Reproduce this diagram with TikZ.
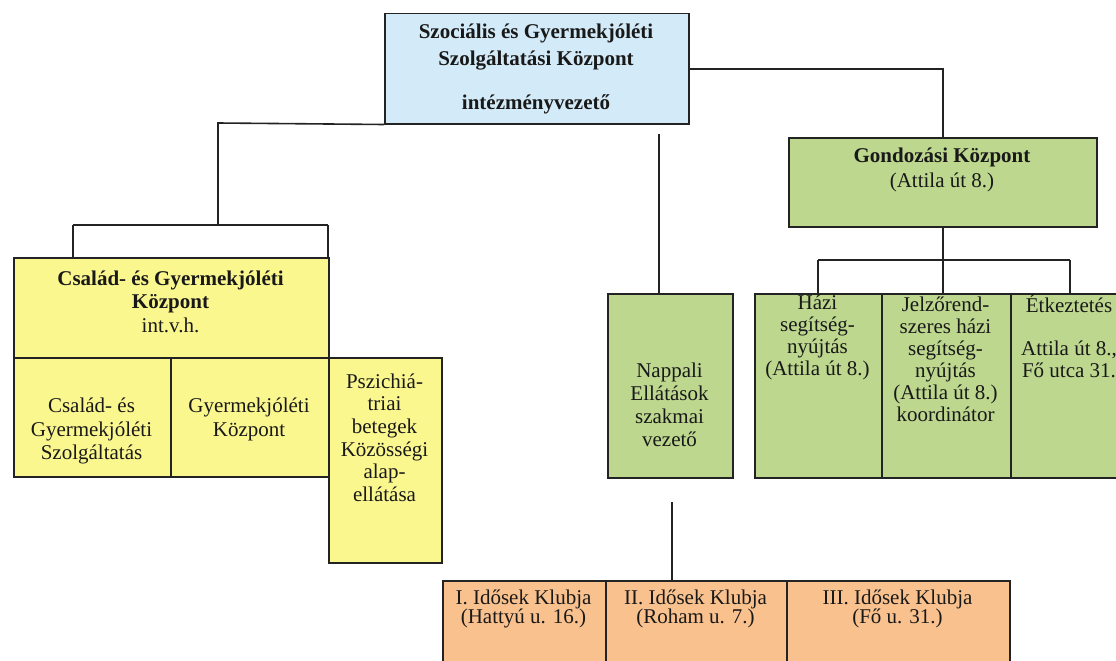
\documentclass[tikz,border=0pt]{standalone}
\usepackage{fontspec}
\setmainfont{Liberation Serif}
\definecolor{cblue}{HTML}{D3EBF8}
\definecolor{cyel}{HTML}{FBF78F}
\definecolor{cgreen}{HTML}{BDD78E}
\definecolor{corange}{HTML}{F9C18E}
\definecolor{cline}{HTML}{232323}
\tikzset{
  box/.style={draw=cline, line width=1.5pt, inner sep=0pt, anchor=north west},
  conn/.style={draw=cline, line width=1.6pt},
  txt/.style={align=center, inner sep=0pt, text=black!90, font=\fontsize{21}{22}\selectfont},
  btxt/.style={txt, font=\fontsize{21}{22}\selectfont\bfseries},
}
\begin{document}
\begin{tikzpicture}[x=1pt,y=-1pt]
\useasboundingbox (0,0) rectangle (1116,661);
\clip (0,0) rectangle (1116,661);
\fill[white] (0,0) rectangle (1116,661);

% boxes
\node[box, fill=cblue, minimum width=304pt, minimum height=110pt] (top) at (384,13) {};
\node[box, fill=cgreen, minimum width=308pt, minimum height=89pt] (gond) at (788,137) {};
\node[box, fill=cyel, minimum width=315pt, minimum height=100pt] (yt) at (13,257) {};
\node[box, fill=cyel, minimum width=157pt, minimum height=119pt] (yl1) at (13,357) {};
\node[box, fill=cyel, minimum width=158pt, minimum height=119pt] (yl2) at (170,357) {};
\node[box, fill=cyel, minimum width=113pt, minimum height=205pt] (psz) at (328,357) {};
\node[box, fill=cgreen, minimum width=125pt, minimum height=184pt] (nap) at (607,293) {};
\node[box, fill=cgreen, minimum width=127pt, minimum height=184pt] (hazi) at (754,293) {};
\node[box, fill=cgreen, minimum width=129pt, minimum height=184pt] (jelz) at (881,293) {};
\node[box, fill=cgreen, minimum width=130pt, minimum height=184pt] (etk) at (1010,293) {};
\node[box, fill=corange, minimum width=163pt, minimum height=100pt] (o1) at (442,580) {};
\node[box, fill=corange, minimum width=181pt, minimum height=100pt] (o2) at (605,580) {};
\node[box, fill=corange, minimum width=223pt, minimum height=100pt] (o3) at (786,580) {};

% texts
\node[btxt] (ttop) at (536,68.5) {Szociális és Gyermekjóléti\\[5pt]Szolgáltatási Központ\\[22pt]intézményvezető};
\node[txt] (tgond) at (942,169.5) {\textbf{Gondozási Központ}\\[3pt](Attila út 8.)};
\node[txt] (tyt) at (170.5,301.5) {\textbf{Család- és Gyermekjóléti}\\[1.5pt]\textbf{Központ}\\[1.5pt]int.v.h.};
\node[txt] (tyl1) at (91.5,431) {Család- és\\[1.5pt]Gyermekjóléti\\[1.5pt]Szolgáltatás};
\node[txt] (tyl2) at (249,419) {Gyermekjóléti\\[2pt]Központ};
\node[txt] (tpsz) at (384.5,437.5) {Pszichiá-\\[0.6pt]triai\\[0.6pt]betegek\\[0.6pt]Közösségi\\[0.6pt]alap-\\[0.6pt]ellátása};
\node[txt] (tnap) at (669.5,404.5) {Nappali\\[1pt]Ellátások\\[1pt]szakmai\\[1pt]vezető};
\node[txt] (thazi) at (817.5,337) {Házi\\segítség-\\nyújtás\\(Attila út 8.)};
\node[txt] (tjelz) at (945.5,359) {Jelzőrend-\\szeres házi\\segítség-\\nyújtás\\(Attila út 8.)\\koordinátor};
\node[txt] (tetk) at (1069,336.5) {Étkeztetés\\[21pt]Attila út 8.,\\Fő utca 31.};
\node[txt] (to1) at (523.5,609) {I. Idősek Klubja\\[-3pt](Hattyú u. 16.)};
\node[txt] (to2) at (695.5,609) {II. Idősek Klubja\\[-3pt](Roham u. 7.)};
\node[txt] (to3) at (897.5,609) {III. Idősek Klubja\\[-3pt](Fő u. 31.)};

% connectors
\coordinate (a1) at (218,123);
\coordinate (a2) at (218,225);
\coordinate (yl) at (73,225);
\coordinate (yr) at (328,225);
\draw[conn] (top.south west) -- (a1) -- (a2);
\draw[conn] (yl) -- (yr);
\draw[conn] (yl) -- (yl |- yt.north);
\draw[conn] (yr) -- (yr |- yt.north);
\draw[conn] (top.east) -- (top.east -| gond.north) -- (gond.north);
\coordinate (m1) at (659,134);
\draw[conn] (m1) -- (m1 |- nap.north);
\coordinate (g1) at (818,260);
\coordinate (g2) at (1070,260);
\draw[conn] (gond.south) -- (gond.south |- jelz.north);
\draw[conn] (g1) -- (g2);
\draw[conn] (g1) -- (g1 |- hazi.north);
\draw[conn] (g2) -- (g2 |- etk.north);
\coordinate (n1) at (672,502);
\draw[conn] (n1) -- (n1 |- o2.north);
\end{tikzpicture}
\end{document}
